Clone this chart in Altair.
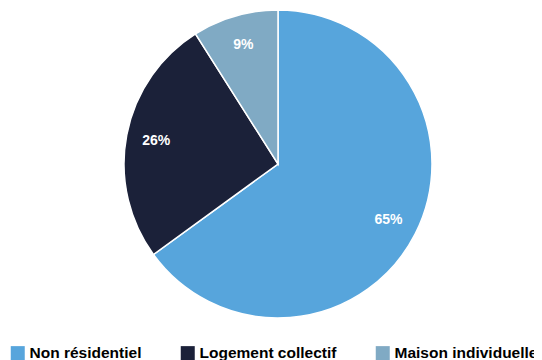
import altair as alt
import pandas as pd

categories = ["Non résidentiel", "Logement collectif", "Maison individuelle"]
values = [65, 26, 9]
labels = ["65%", "26%", "9%"]
colors = ["#57A5DC", "#1B2139", "#80AAC4"]

df = pd.DataFrame({
    "cat": categories,
    "val": values,
    "lab": labels,
    "ord": list(range(len(categories))),
})

font = "Liberation Sans, Arial, sans-serif"

base = alt.Chart(df).encode(
    theta=alt.Theta("val:Q", stack=True),
    order=alt.Order("ord:Q"),
)

pie = base.mark_arc(outerRadius=154, stroke="white", strokeWidth=1.5).encode(
    x=alt.value(270),
    y=alt.value(156),
    color=alt.Color(
        "cat:N",
        scale=alt.Scale(domain=categories, range=colors),
        sort=categories,
        legend=alt.Legend(
            title=None,
            orient="none",
            legendX=2,
            legendY=337,
            direction="horizontal",
            columns=3,
            columnPadding=38,
            symbolType="square",
            symbolSize=196,
            symbolStrokeWidth=0,
            symbolOpacity=1,
            labelFont=font,
            labelFontSize=15.5,
            labelFontWeight="bold",
            labelColor="#000000",
            labelOffset=4,
            labelLimit=300,
            padding=0,
        ),
    ),
)

text = base.mark_text(
    radius=124, font=font, fontSize=14, fontWeight="bold", color="white"
).encode(
    x=alt.value(270),
    y=alt.value(156),
    text="lab:N",
)

chart = (pie + text).properties(
    width=526, height=352, padding=0, autosize="none"
).configure_view(stroke=None)

chart.save("out.html", embed_options={"renderer": "svg", "actions": False})
